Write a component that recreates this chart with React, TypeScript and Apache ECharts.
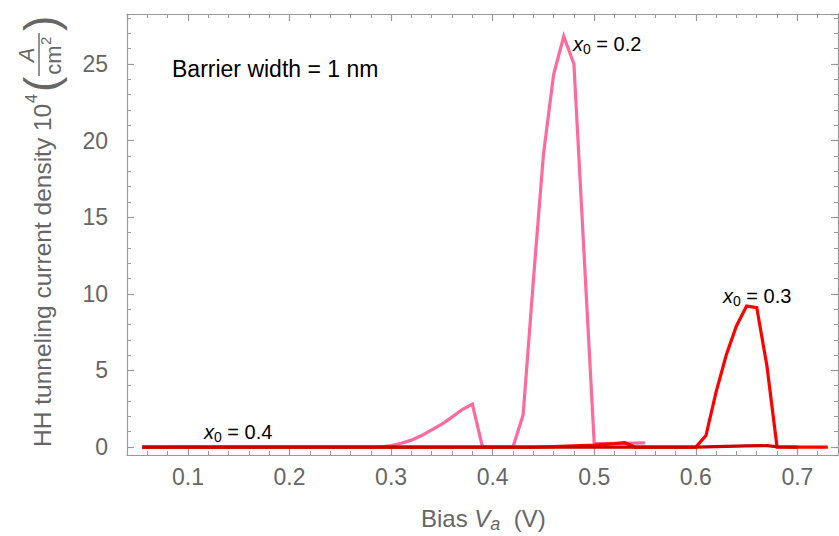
import React, { useEffect, useRef } from "react";
import * as echarts from "echarts";

// ---- data ----
const biasX02 = [0.055, 0.29, 0.30, 0.31, 0.32, 0.33, 0.34, 0.35, 0.36, 0.37, 0.38, 0.39, 0.42, 0.43, 0.44, 0.45, 0.46, 0.47, 0.48, 0.49, 0.50, 0.53, 0.55];
const currentX02 = [0, 0.02, 0.1, 0.25, 0.45, 0.75, 1.12, 1.5, 1.95, 2.45, 2.8, 0, 0, 2.1, 10.8, 19.1, 24.3, 26.8, 25.0, 12.6, 0.22, 0.24, 0.27];

const biasX03 = [0.055, 0.44, 0.46, 0.48, 0.50, 0.52, 0.53, 0.54, 0.60, 0.61, 0.62, 0.63, 0.64, 0.65, 0.66, 0.67, 0.68, 0.73];
const currentX03 = [0, 0, 0.03, 0.07, 0.13, 0.22, 0.28, 0, 0, 0.75, 3.6, 6.0, 7.9, 9.2, 9.1, 5.3, 0, 0];

const biasX04 = [0.055, 0.60, 0.62, 0.65, 0.67, 0.68, 0.70];
const currentX04 = [0, 0, 0.03, 0.07, 0.09, 0.02, 0];

const seriesNames = ["x0 = 0.2", "x0 = 0.3", "x0 = 0.4"];
const seriesColors = ["#FF6A9A", "#FF0000", "#C80000"];

const X_MIN = 0.04;
const X_MAX = 0.74;
const Y_MIN = -0.52;
const Y_MAX = 28.26;

const FONT = "'Liberation Sans', Arial, sans-serif";
const FRAME = "#999999";
const LABEL = "#666666";

const zip = (xs: number[], ys: number[]) => xs.map((x, i) => [x, ys[i]]);

function subLabel(x: number, y: number, value: string) {
  return {
    type: "text",
    x,
    y,
    style: {
      text: `{i|x}{s|0}{n| = ${value}}`,
      fill: "#000",
      fontFamily: FONT,
      verticalAlign: "middle",
      rich: {
        i: { fontSize: 20, fontStyle: "italic", lineHeight: 24, fontFamily: FONT, fill: "#000" },
        s: { fontSize: 14, lineHeight: 14, padding: [10, 0, 0, 0], verticalAlign: "top", fontFamily: FONT, fill: "#000" },
        n: { fontSize: 20, lineHeight: 24, fontFamily: FONT, fill: "#000" },
      },
    },
  };
}

export default function App() {
  const ref = useRef<HTMLDivElement>(null);
  useEffect(() => {
    if (!ref.current) return;
    const chart = echarts.init(ref.current, null, { renderer: "svg" });

    const mainX = (position: string, labels: boolean) => ({
      type: "value",
      position,
      min: X_MIN,
      max: X_MAX,
      splitNumber: 7,
      axisLine: { show: true, onZero: false, lineStyle: { color: FRAME, width: 1.2 } },
      axisTick: { show: true, inside: true, length: 7, lineStyle: { color: FRAME, width: 1.2 } },
      axisLabel: {
        show: labels,
        color: LABEL,
        fontSize: 23,
        fontFamily: FONT,
        margin: 10,
        showMinLabel: false,
        showMaxLabel: false,
        formatter: (v: number) => v.toFixed(1),
      },
      splitLine: { show: false },
    });
    const minorX = (position: string) => ({
      type: "value",
      position,
      min: X_MIN,
      max: X_MAX,
      interval: 0.02,
      axisLine: { show: false, onZero: false },
      axisTick: { show: true, inside: true, length: 4, lineStyle: { color: FRAME, width: 1 } },
      axisLabel: { show: false },
      splitLine: { show: false },
    });
    const mainY = (position: string, labels: boolean) => ({
      type: "value",
      position,
      min: Y_MIN,
      max: Y_MAX,
      splitNumber: 6,
      axisLine: { show: true, onZero: false, lineStyle: { color: FRAME, width: 1.2 } },
      axisTick: { show: true, inside: true, length: 7, lineStyle: { color: FRAME, width: 1.2 } },
      axisLabel: {
        show: labels,
        color: LABEL,
        fontSize: 23,
        fontFamily: FONT,
        margin: 19,
        showMinLabel: false,
        showMaxLabel: false,
      },
      splitLine: { show: false },
    });
    const minorY = (position: string) => ({
      type: "value",
      position,
      min: Y_MIN,
      max: Y_MAX,
      splitNumber: 29,
      axisLine: { show: false, onZero: false },
      axisTick: { show: true, inside: true, length: 4, lineStyle: { color: FRAME, width: 1 } },
      axisLabel: { show: false },
      splitLine: { show: false },
    });

    const datasets = [zip(biasX02, currentX02), zip(biasX03, currentX03), zip(biasX04, currentX04)];

    chart.setOption({
      animation: false,
      backgroundColor: "#ffffff",
      grid: { left: 127, right: 1, top: 14, bottom: 81, containLabel: false },
      xAxis: [mainX("bottom", true), minorX("bottom"), mainX("top", false), minorX("top")],
      yAxis: [mainY("left", true), minorY("left"), mainY("right", false), minorY("right")],
      series: datasets.map((d, i) => ({
        type: "line",
        name: seriesNames[i],
        data: d,
        xAxisIndex: 0,
        yAxisIndex: 0,
        symbol: "none",
        showSymbol: false,
        lineStyle: { color: seriesColors[i], width: 3.2, join: "miter" },
        z: 2 + i,
      })),
      graphic: [
        {
          type: "text",
          x: 172,
          y: 69,
          style: { text: "Barrier width = 1 nm", fontSize: 23, fontFamily: FONT, fill: "#000", verticalAlign: "middle" },
        },
        subLabel(573, 44, "0.2"),
        subLabel(723, 296, "0.3"),
        subLabel(204, 432, "0.4"),
        // x-axis name
        {
          type: "text",
          x: 421,
          y: 518,
          style: {
            text: "{n|Bias }{i|V}{s|a}{n|  (V)}",
            fontFamily: FONT,
            fill: LABEL,
            verticalAlign: "middle",
            rich: {
              n: { fontSize: 24, lineHeight: 28, fontFamily: FONT, fill: LABEL },
              i: { fontSize: 24, lineHeight: 28, fontStyle: "italic", fontFamily: FONT, fill: LABEL },
              s: { fontSize: 18, lineHeight: 18, padding: [11, 0, 0, 0], verticalAlign: "top", fontStyle: "italic", fontFamily: FONT, fill: LABEL },
            },
          },
        },
        // y-axis name (rotated)
        {
          type: "group",
          x: 42,
          y: 447,
          rotation: Math.PI / 2,
          children: [
            { type: "text", x: 0, y: 0, style: { text: "HH tunneling current density 10", fontSize: 24.5, fontFamily: FONT, fill: LABEL, verticalAlign: "middle", align: "left" } },
            { type: "text", x: 344, y: -11, style: { text: "4", fontSize: 16, fontFamily: FONT, fill: LABEL, verticalAlign: "middle", align: "left" } },
            { type: "text", x: 355, y: -1, style: { text: "(", fontSize: 46, fontFamily: FONT, fill: LABEL, verticalAlign: "middle", align: "left" } },
            { type: "text", x: 392, y: -16, style: { text: "A", fontSize: 22, fontStyle: "italic", fontFamily: FONT, fill: LABEL, verticalAlign: "middle", align: "center" } },
            { type: "line", shape: { x1: 371, y1: -3, x2: 414, y2: -3 }, style: { stroke: LABEL, lineWidth: 1.4 } },
            { type: "text", x: 387, y: 11, style: { text: "cm", fontSize: 22, fontFamily: FONT, fill: LABEL, verticalAlign: "middle", align: "center" } },
            { type: "text", x: 402, y: 3, style: { text: "2", fontSize: 15, fontFamily: FONT, fill: LABEL, verticalAlign: "middle", align: "left" } },
            { type: "text", x: 416, y: -1, style: { text: ")", fontSize: 46, fontFamily: FONT, fill: LABEL, verticalAlign: "middle", align: "left" } },
          ],
        },
      ],
    });
    return () => chart.dispose();
  }, []);
  return <div ref={ref} style={{ position: "fixed", left: 0, top: 0, width: 839, height: 536 }} />;
}
